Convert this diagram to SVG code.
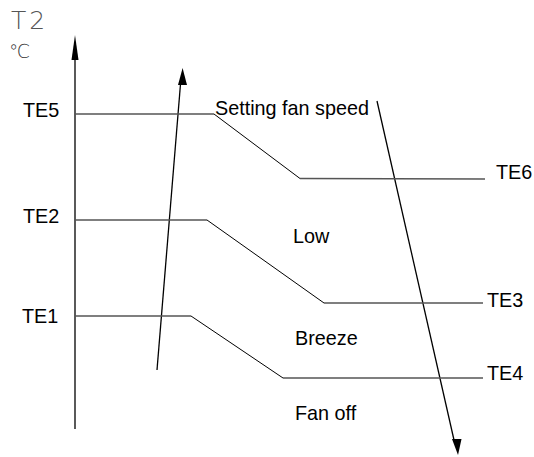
<svg xmlns="http://www.w3.org/2000/svg" width="534" height="457" viewBox="0 0 534 457">
<style>
text{font-family:"Liberation Sans",Arial,sans-serif;font-size:19.8px;fill:#000}
.h{stroke:#555;stroke-width:1.6;fill:none}
.d{stroke:#000;stroke-width:1;fill:none}
.a{stroke:#000;stroke-width:1.3;fill:none}
.ah{fill:#000}
</style>
<rect width="534" height="457" fill="#fff"/>
<g id="axis-label">
<text x="11" y="29" style="font-family:'DejaVu Sans',sans-serif;font-weight:200;font-size:25px;fill:#555;letter-spacing:3px">T2</text>
<text x="9" y="58" style="font-family:'DejaVu Sans',sans-serif;font-weight:200;font-size:19px;fill:#333">℃</text>
</g>
<g id="connectors">
<line class="a" x1="75" y1="429" x2="75" y2="58"/>
<polygon class="ah" points="75,35 71.5,60 78.5,60"/>
<line class="a" x1="157" y1="370" x2="180.5" y2="84"/>
<polygon class="ah" points="182.6,68 178,85 187,85"/>
<line class="a" x1="377" y1="101" x2="454" y2="440"/>
<polygon class="ah" points="458,455 452,439 461.5,439"/>
</g>
<g id="TE5-curve">
<polyline class="h" points="75,114 214,114"/>
<polyline class="d" points="214,114 300,178.5"/>
<polyline class="h" points="300,178.5 485,179"/>
</g>
<g id="TE2-curve">
<polyline class="h" points="75,220 207,220"/>
<polyline class="d" points="207,220 324,303"/>
<polyline class="h" points="324,303 483,303"/>
</g>
<g id="TE1-curve">
<polyline class="h" points="75,316 191,316"/>
<polyline class="d" points="191,316 283,378"/>
<polyline class="h" points="283,378 483,378"/>
</g>
<g id="labels">
<text x="23" y="117">TE5</text>
<text x="23" y="223">TE2</text>
<text x="22" y="323">TE1</text>
<text x="496" y="179">TE6</text>
<text x="487" y="307">TE3</text>
<text x="487" y="380">TE4</text>
<text x="215" y="115">Setting fan speed</text>
<text x="293" y="243">Low</text>
<text x="295" y="345">Breeze</text>
<text x="295" y="420">Fan off</text>
</g>
</svg>
